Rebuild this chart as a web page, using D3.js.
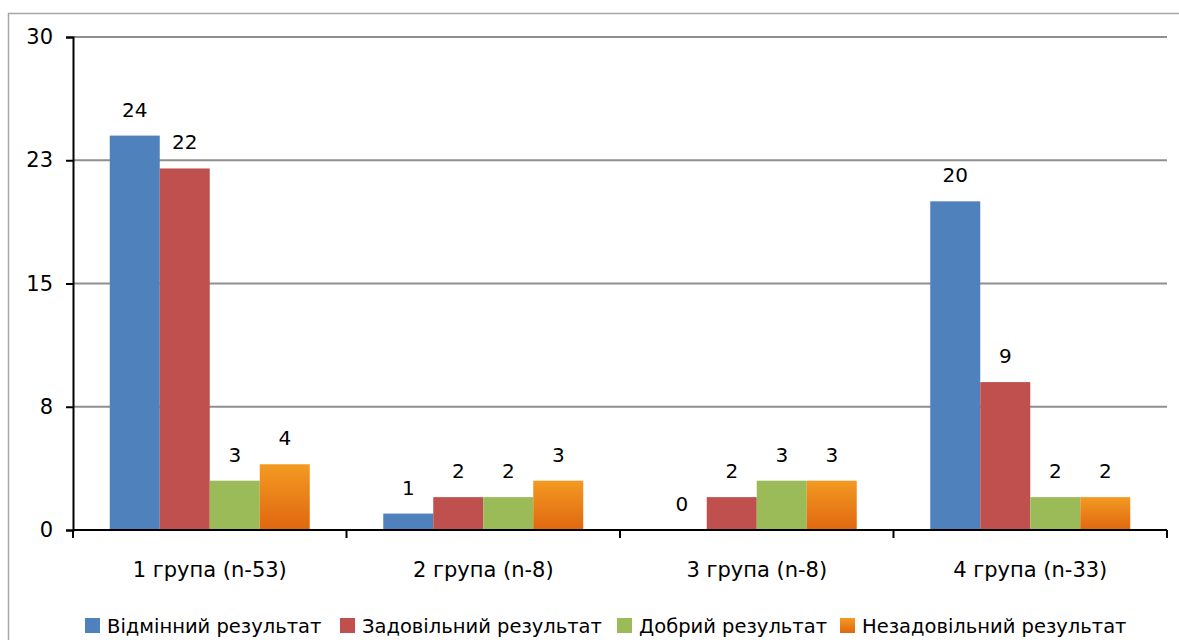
<!DOCTYPE html>
<html>
<head>
<meta charset="utf-8">
<script src="https://cdn.jsdelivr.net/npm/d3@7"></script>
<style>
  html, body { margin: 0; padding: 0; background: #fff; }
  svg { display: block; font-family: "DejaVu Sans", Verdana, sans-serif; }
</style>
</head>
<body>
<svg id="chart" width="1179" height="640"></svg>
<script>
// Results by group
const categories = ["1 група (n-53)", "2 група (n-8)", "3 група (n-8)", "4 група (n-33)"];
const seriesNames = ["Відмінний результат", "Задовільний результат", "Добрий результат", "Незадовільний результат"];
const excellent = [24, 1, 0, 20];
const satisfactory = [22, 2, 2, 9];
const good = [3, 2, 3, 2];
const unsatisfactory = [4, 3, 3, 2];
const tickValues = [0, 7.5, 15, 22.5, 30];
const tickLabels = ["0", "8", "15", "23", "30"];

const seriesValues = [excellent, satisfactory, good, unsatisfactory];
const colors = ["#4F81BD", "#C0504D", "#9BBB59", "url(#orangeGrad)"];

const svg = d3.select("#chart");
const W = 1179, H = 640;
const plot = { left: 73, right: 1167, top: 37, bottom: 530 };
const FONT = "DejaVu Sans, Verdana, sans-serif";

// Gradient for the orange series
const defs = svg.append("defs");
const grad = defs.append("linearGradient").attr("id", "orangeGrad")
  .attr("x1", 0).attr("y1", 0).attr("x2", 0).attr("y2", 1);
grad.append("stop").attr("offset", "0%").attr("stop-color", "#F39A22");
grad.append("stop").attr("offset", "100%").attr("stop-color", "#E0670F");

// Outer frame
svg.append("path")
  .attr("d", `M8.5,${H} V13.5 H${W}`)
  .attr("fill", "none").attr("stroke", "#a6a6a6").attr("stroke-width", 1.5);

const x0 = d3.scaleBand().domain(categories).range([plot.left, plot.right]).paddingInner(0).paddingOuter(0);
const groupPad = 36.75;
const x1 = d3.scaleBand().domain(d3.range(seriesNames.length))
  .range([groupPad, x0.bandwidth() - groupPad]).padding(0);
const y = d3.scaleLinear().domain([0, 30]).range([plot.bottom, plot.top]);

// Gridlines
svg.append("g").selectAll("line")
  .data(tickValues.filter(v => v > 0))
  .join("line")
  .attr("x1", plot.left).attr("x2", plot.right)
  .attr("y1", d => y(d)).attr("y2", d => y(d))
  .attr("stroke", "#8f8f8f").attr("stroke-width", 2);

// Bars and value labels
const groups = svg.append("g").selectAll("g")
  .data(categories)
  .join("g")
  .attr("transform", d => `translate(${x0(d)},0)`);

groups.each(function(cat, ci) {
  const g = d3.select(this);
  seriesValues.forEach((vals, si) => {
    const v = vals[ci];
    if (v > 0) {
      g.append("rect")
        .attr("x", x1(si))
        .attr("y", y(v))
        .attr("width", x1.bandwidth())
        .attr("height", y(0) - y(v))
        .attr("fill", colors[si]);
    }
    g.append("text")
      .attr("x", x1(si) + x1.bandwidth() / 2)
      .attr("y", y(v) - 19)
      .attr("text-anchor", "middle")
      .attr("font-size", 20)
      .attr("fill", "#000")
      .text(v);
  });
});

// Y axis
const yAxis = d3.axisLeft(y).tickValues(tickValues)
  .tickFormat((d, i) => tickLabels[i]).tickSize(7).tickPadding(13);
const gy = svg.append("g").attr("transform", `translate(${plot.left},0)`).call(yAxis);
gy.select(".domain").attr("stroke", "#000").attr("stroke-width", 2);
gy.selectAll(".tick line").attr("stroke", "#000").attr("stroke-width", 2);
gy.selectAll(".tick text").attr("font-size", 21).attr("fill", "#000")
  .attr("font-family", FONT);

// X axis
const xAxis = d3.axisBottom(x0).tickSize(0);
const gx = svg.append("g").attr("transform", `translate(0,${plot.bottom})`).call(xAxis);
gx.select(".domain").attr("stroke", "#000").attr("stroke-width", 2).attr("d", `M${plot.left},0H${plot.right}`);
gx.selectAll(".tick text").attr("font-size", 21).attr("fill", "#000")
  .attr("font-family", FONT).attr("dy", 0).attr("y", 47);
// Category separators
const seps = [plot.left, ...categories.map(c => x0(c) + x0.bandwidth())];
svg.append("g").selectAll("line").data(seps).join("line")
  .attr("x1", d => d).attr("x2", d => d)
  .attr("y1", plot.bottom).attr("y2", plot.bottom + 8)
  .attr("stroke", "#000").attr("stroke-width", 2);

// Legend
const legendX = [85, 340, 617, 840];
const legend = svg.append("g").selectAll("g").data(seriesNames).join("g")
  .attr("transform", (d, i) => `translate(${legendX[i]},618)`);
legend.append("rect").attr("width", 15).attr("height", 15).attr("fill", (d, i) => colors[i]);
legend.append("text").attr("x", 22).attr("y", 15)
  .attr("font-size", 19.5).attr("fill", "#000").text(d => d);
</script>
</body>
</html>
